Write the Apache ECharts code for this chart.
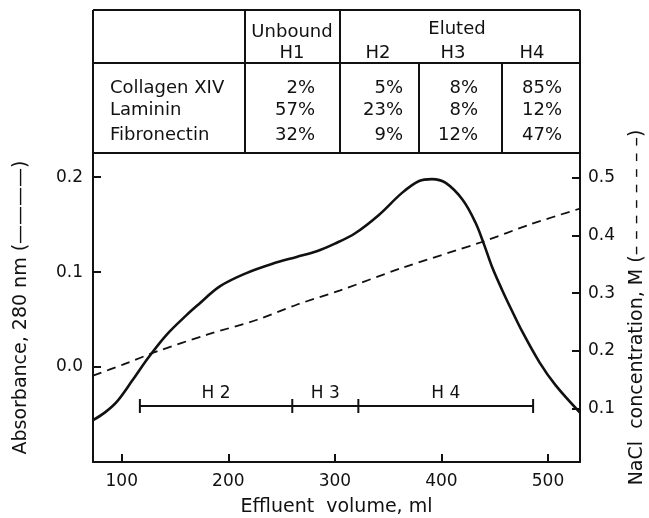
<!DOCTYPE html>
<html>
<head>
<meta charset="utf-8">
<script src="https://cdn.jsdelivr.net/npm/echarts@6/dist/echarts.min.js"></script>
<style>
html,body{margin:0;padding:0;background:#fff;}
#chart{width:649px;height:518px;}
</style>
</head>
<body>
<div id="chart"></div>
<script>
// ---------- data ----------
const xTicks = [100, 200, 300, 400, 500];
const leftTicks = [0.0, 0.1, 0.2];
const rightTicks = [0.1, 0.2, 0.3, 0.4, 0.5];

const absVolume  = [73, 84, 95, 110, 125, 142, 161, 172, 192, 217, 242, 264, 283, 300, 319, 341, 363, 379, 391, 404, 420, 432, 440, 448, 457, 465, 476, 492, 507, 530];
const absorbance = [-0.056, -0.048, -0.037, -0.014, 0.010, 0.034, 0.055, 0.066, 0.085, 0.099, 0.109, 0.116, 0.122, 0.130, 0.141, 0.160, 0.1835, 0.196, 0.198, 0.194, 0.176, 0.152, 0.129, 0.104, 0.081, 0.062, 0.037, 0.005, -0.019, -0.048];

const naclVolume = [73, 101, 133, 180, 227, 264, 305, 363, 438, 484, 530];
const naclConc   = [0.157, 0.176, 0.199, 0.228, 0.254, 0.280, 0.305, 0.344, 0.389, 0.420, 0.447];

const fractionNames = ['H 2', 'H 3', 'H 4'];
const fractionEdges = [117, 260, 322, 486];
const fractionLevel = -0.041;

const tableRowNames = ['Collagen XIV', 'Laminin', 'Fibronectin'];
const tableGroupHeaders = ['Unbound', 'Eluted'];
const tableColumnHeaders = ['H1', 'H2', 'H3', 'H4'];
const collagenXIV = [2, 5, 8, 85];
const laminin     = [57, 23, 8, 12];
const fibronectin = [32, 9, 12, 47];
const tableValues = [collagenXIV, laminin, fibronectin];

// ---------- chart ----------
const INK = '#111';
const FONT = 'DejaVu Sans';
const chart = echarts.init(document.getElementById('chart'));

// table layout (pixels)
const T = {left: 93, right: 580, top: 10, head: 63, bottom: 153,
  colSep: [245, 340, 419, 502],
  colCenters: [292, 378, 453, 532],
  valueRight: [315, 403, 478, 562],
  rowY: [88, 110, 135]};

const g = [];
const ln = (x1, y1, x2, y2) => g.push({type: 'line', shape: {x1, y1, x2, y2}, style: {stroke: INK, lineWidth: 2}, silent: true});
const tx = (text, x, y, align) => g.push({type: 'text', x, y, style: {text, font: '18px "' + FONT + '"', fill: INK, align: align || 'center', verticalAlign: 'middle'}, silent: true});
ln(T.left, T.top, T.right, T.top);
ln(T.left, T.head, T.right, T.head);
ln(T.left, T.top, T.left, T.bottom);
ln(T.right, T.top, T.right, T.bottom);
ln(T.colSep[0], T.top, T.colSep[0], T.bottom);
ln(T.colSep[1], T.top, T.colSep[1], T.bottom);
ln(T.colSep[2], T.head, T.colSep[2], T.bottom);
ln(T.colSep[3], T.head, T.colSep[3], T.bottom);
tx(tableGroupHeaders[0], 292, 32);
tx(tableGroupHeaders[1], 457, 29);
tableColumnHeaders.forEach((h, i) => tx(h, T.colCenters[i], 53));
tableRowNames.forEach((n, r) => {
  tx(n, 110, T.rowY[r], 'left');
  tableValues[r].forEach((v, c) => tx(v + '%', T.valueRight[c], T.rowY[r], 'right'));
});

const axisText = {color: INK, fontFamily: FONT, fontSize: 17};
const nameText = {color: INK, fontFamily: FONT, fontSize: 19};
const axLine = {show: true, onZero: false, lineStyle: {color: INK, width: 2}};

chart.setOption({
  animation: false,
  backgroundColor: '#fff',
  grid: {left: 93, right: 69, top: 153, bottom: 56, containLabel: false, outerBoundsMode: 'none'},
  xAxis: [{
    type: 'value', min: 73, max: 530,
    axisLine: axLine,
    axisTick: {show: true, inside: true, length: 8, lineStyle: {color: INK, width: 2}, customValues: xTicks},
    axisLabel: {...axisText, margin: 11, customValues: xTicks, formatter: v => String(v)},
    splitLine: {show: false},
    name: 'Effluent  volume, ml', nameLocation: 'middle', nameGap: 36, nameTextStyle: nameText
  }, {
    type: 'value', min: 73, max: 530, position: 'top',
    axisLine: axLine,
    axisTick: {show: false}, axisLabel: {show: false}, splitLine: {show: false}
  }],
  yAxis: [{
    type: 'value', min: -0.1, max: 0.2255, position: 'left',
    axisLine: axLine,
    axisTick: {show: true, inside: true, length: 8, lineStyle: {color: INK, width: 2}, customValues: leftTicks},
    axisLabel: {...axisText, margin: 10, customValues: leftTicks, formatter: v => v.toFixed(1)},
    splitLine: {show: false},
    name: 'Absorbance, 280 nm (————)', nameLocation: 'middle', nameRotate: 90, nameGap: 62,
    nameTextStyle: nameText
  }, {
    type: 'value', min: 0.007, max: 0.5435, position: 'right',
    axisLine: axLine,
    axisTick: {show: true, inside: true, length: 8, lineStyle: {color: INK, width: 2}, customValues: rightTicks},
    axisLabel: {...axisText, margin: 8, customValues: rightTicks, formatter: v => v.toFixed(1)},
    splitLine: {show: false},
    name: 'NaCl  concentration, M (– – – – – – – –)', nameLocation: 'middle', nameRotate: 90, nameGap: 48,
    nameTextStyle: nameText
  }],
  series: [{
    type: 'line', yAxisIndex: 0, showSymbol: false, smooth: 0.35,
    lineStyle: {color: INK, width: 2.6},
    data: absVolume.map((v, i) => [v, absorbance[i]])
  }, {
    type: 'line', yAxisIndex: 1, showSymbol: false, smooth: 0.3,
    lineStyle: {color: INK, width: 1.8, type: [9, 6]},
    data: naclVolume.map((v, i) => [v, naclConc[i]])
  }, {
    type: 'line', yAxisIndex: 0, showSymbol: false,
    lineStyle: {color: INK, width: 1.8},
    data: [[fractionEdges[0], fractionLevel], [fractionEdges[fractionEdges.length - 1], fractionLevel]]
  }, {
    type: 'scatter', yAxisIndex: 0, symbol: 'rect', symbolSize: [2, 14],
    itemStyle: {color: INK, opacity: 1},
    data: fractionEdges.map(v => [v, fractionLevel])
  }, {
    type: 'scatter', yAxisIndex: 0, symbolSize: 0,
    itemStyle: {opacity: 1},
    label: {show: true, position: 'top', distance: 4, color: INK, fontFamily: FONT, fontSize: 17,
      formatter: p => fractionNames[p.dataIndex]},
    data: fractionNames.map((n, i) => [(fractionEdges[i] + fractionEdges[i + 1]) / 2, fractionLevel])
  }],
  graphic: g
});
</script>
</body>
</html>
